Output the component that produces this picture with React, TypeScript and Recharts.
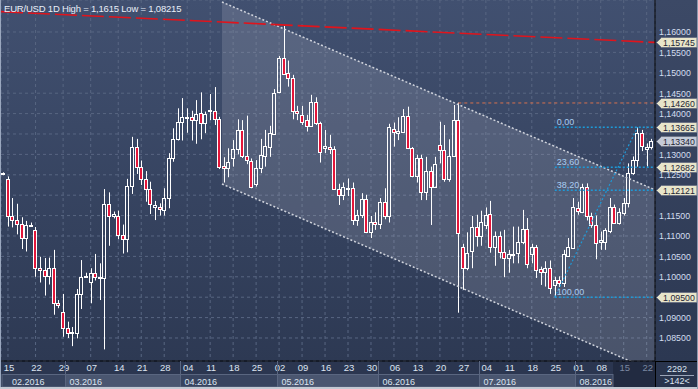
import React from 'react';
import {
  ComposedChart,
  Bar,
  Area,
  XAxis,
  YAxis,
  CartesianGrid,
  ReferenceLine,
  ReferenceDot,
} from 'recharts';

// EUR/USD daily candles, 14.02.2016 - 23.08.2016 (Sunday stubs until mid March)
const opens = [
  1.1252, 1.124, 1.115, 1.1139, 1.1129, 1.1095, 1.1125, 1.1115, 1.1021, 1.1016,
  1.1003, 1.1021, 1.0935, 1.0913, 1.0874, 1.0862, 1.0862, 1.0958, 1.1, 1.0987,
  1.1009, 1.1, 1.0998, 1.1179, 1.1148, 1.115, 1.1102, 1.1092, 1.1223, 1.1318,
  1.127, 1.1239, 1.1215, 1.1172, 1.1172, 1.1163, 1.1193, 1.1291, 1.1337, 1.1379,
  1.1391, 1.1391, 1.1384, 1.1401, 1.1378, 1.1406, 1.1407, 1.1387, 1.1272, 1.1266,
  1.1291, 1.1313, 1.136, 1.1296, 1.1285, 1.1228, 1.1266, 1.1296, 1.1319, 1.135,
  1.1454, 1.1536, 1.1499, 1.1487, 1.1407, 1.1397, 1.1384, 1.137, 1.1429, 1.1376,
  1.1316, 1.1319, 1.1313, 1.1215, 1.1201, 1.1216, 1.1217, 1.1139, 1.1152, 1.1191,
  1.1109, 1.1135, 1.1129, 1.1184, 1.1148, 1.1362, 1.1353, 1.1356, 1.1394, 1.1315,
  1.1247, 1.1291, 1.1209, 1.1259, 1.1221, 1.1323, 1.1311, 1.1239, 1.1296, 1.1384,
  1.1073, 1.1021, 1.1062, 1.1123, 1.1101, 1.1127, 1.1154, 1.1073, 1.1099, 1.106,
  1.1045, 1.1053, 1.1058, 1.1086, 1.1116, 1.1055, 1.1073, 1.1019, 1.1011, 1.1021,
  1.0979, 1.0992, 1.0984, 1.1052, 1.107, 1.1168, 1.116, 1.1221, 1.1148, 1.1127,
  1.1086, 1.1086, 1.1113, 1.1172, 1.1133, 1.1156, 1.118, 1.1254, 1.1286, 1.1352,
  1.1313, 1.1317,
];
const highs = [
  1.1256, 1.1246, 1.1193, 1.1179, 1.1146, 1.1137, 1.1133, 1.1122, 1.1049, 1.1046,
  1.1047, 1.1066, 1.0943, 1.0958, 1.089, 1.0877, 1.097, 1.1041, 1.101, 1.1021,
  1.1056, 1.1033, 1.1215, 1.1207, 1.116, 1.1162, 1.1128, 1.124, 1.1343, 1.1338,
  1.1285, 1.1259, 1.1233, 1.1186, 1.118, 1.1217, 1.1303, 1.1364, 1.1413, 1.1438,
  1.1413, 1.1407, 1.1433, 1.1452, 1.1405, 1.1448, 1.1465, 1.1392, 1.1293, 1.1315,
  1.1335, 1.1386, 1.1384, 1.1395, 1.129, 1.1286, 1.1338, 1.136, 1.137, 1.146,
  1.1541, 1.1615, 1.153, 1.1495, 1.1419, 1.1419, 1.1397, 1.1446, 1.144, 1.138,
  1.136, 1.1348, 1.132, 1.1228, 1.1231, 1.1241, 1.1231, 1.1164, 1.1205, 1.1201,
  1.1149, 1.1158, 1.1193, 1.1217, 1.1375, 1.1378, 1.1391, 1.1411, 1.1417, 1.1318,
  1.1299, 1.1299, 1.1294, 1.127, 1.1294, 1.138, 1.1372, 1.1337, 1.1421, 1.1427,
  1.1081, 1.1109, 1.1149, 1.1152, 1.1162, 1.117, 1.1186, 1.1111, 1.1111, 1.1115,
  1.1066, 1.1123, 1.1123, 1.1164, 1.1144, 1.1081, 1.1078, 1.1025, 1.1038, 1.104,
  1.1, 1.1001, 1.1066, 1.1095, 1.1193, 1.1184, 1.1228, 1.1229, 1.1157, 1.115,
  1.1111, 1.1119, 1.1193, 1.1177, 1.1168, 1.1193, 1.1278, 1.1295, 1.13665, 1.136,
  1.1327, 1.1338,
];
const lows = [
  1.1249, 1.1123, 1.1121, 1.1104, 1.1068, 1.1062, 1.1122, 1.1, 1.0986, 1.0954,
  1.0981, 1.0907, 1.0923, 1.0853, 1.085, 1.083, 1.0849, 1.0921, 1.0997, 1.0935,
  1.0991, 1.0943, 1.0822, 1.1076, 1.1143, 1.1092, 1.1057, 1.106, 1.1203, 1.1252,
  1.1225, 1.1184, 1.1154, 1.1139, 1.115, 1.115, 1.1168, 1.1282, 1.1334, 1.1334,
  1.1353, 1.1334, 1.1326, 1.1337, 1.1352, 1.1384, 1.1372, 1.1264, 1.1231, 1.1244,
  1.127, 1.13, 1.1291, 1.1276, 1.1217, 1.1221, 1.1254, 1.127, 1.1294, 1.1348,
  1.145, 1.1495, 1.1466, 1.1386, 1.1384, 1.1372, 1.1356, 1.1368, 1.1372, 1.128,
  1.1303, 1.1301, 1.1213, 1.1176, 1.1188, 1.1198, 1.1127, 1.1125, 1.1144, 1.1107,
  1.1095, 1.1115, 1.1117, 1.1141, 1.1133, 1.1319, 1.1335, 1.1353, 1.1313, 1.1244,
  1.1231, 1.1188, 1.1188, 1.1127, 1.1221, 1.1278, 1.1233, 1.1233, 1.1294, 1.0912,
  1.0968, 1.1016, 1.1021, 1.1074, 1.1076, 1.1117, 1.1059, 1.1027, 1.1045, 1.0999,
  1.101, 1.1033, 1.1033, 1.108, 1.1021, 1.1033, 1.0997, 1.098, 1.0976, 1.0958,
  1.095, 1.0975, 1.0975, 1.1049, 1.1068, 1.1152, 1.1156, 1.1138, 1.112, 1.1043,
  1.1066, 1.1066, 1.1107, 1.113, 1.1128, 1.115, 1.117, 1.125, 1.127, 1.1308,
  1.127, 1.1312,
];
const closes = [
  1.1254, 1.115, 1.1139, 1.1129, 1.1095, 1.1126, 1.1127, 1.1021, 1.1016, 1.1003,
  1.1021, 1.0935, 1.093, 1.0874, 1.0863, 1.0865, 1.0958, 1.0999, 1.1003, 1.1009,
  1.1, 1.0998, 1.1179, 1.1148, 1.1154, 1.1102, 1.1092, 1.1223, 1.1318, 1.1269,
  1.1239, 1.1215, 1.1179, 1.1177, 1.1166, 1.1193, 1.1291, 1.1337, 1.1379, 1.1391,
  1.1392, 1.1384, 1.1399, 1.1376, 1.1399, 1.1408, 1.1386, 1.127, 1.1267, 1.1282,
  1.1313, 1.136, 1.1296, 1.1286, 1.1221, 1.1267, 1.1299, 1.1321, 1.1352, 1.1451,
  1.1536, 1.1497, 1.1487, 1.1407, 1.1401, 1.138, 1.137, 1.1429, 1.1376, 1.1305,
  1.1321, 1.1313, 1.1215, 1.1201, 1.122, 1.1218, 1.1139, 1.1152, 1.1191, 1.1111,
  1.1134, 1.113, 1.1184, 1.1148, 1.1366, 1.1356, 1.1358, 1.1394, 1.1315, 1.1247,
  1.1291, 1.1209, 1.1259, 1.1221, 1.1277, 1.1311, 1.1239, 1.1296, 1.1384, 1.1108,
  1.1021, 1.1059, 1.1123, 1.1101, 1.1134, 1.1152, 1.1073, 1.1099, 1.106, 1.1045,
  1.1056, 1.1057, 1.1086, 1.1116, 1.1032, 1.1073, 1.1017, 1.1011, 1.1021, 1.0972,
  1.0992, 1.0984, 1.1056, 1.1074, 1.117, 1.1161, 1.1221, 1.1148, 1.1128, 1.1084,
  1.109, 1.1115, 1.1172, 1.1133, 1.116, 1.118, 1.1254, 1.1286, 1.1352, 1.132,
  1.1318, 1.1334,
];

// drawings on the chart (index of candle, price)
const resistLine = [
  { x: -0.52, y: 1.16498 },
  { x: 141.81, y: 1.15745 },
];
const channelTop = [
  { x: 47.57, y: 1.16735 },
  { x: 141.81, y: 1.1213 },
];
const channelBottom = [
  { x: 47.57, y: 1.12275 },
  { x: 141.81, y: 1.07669 },
];
const brexitHigh = 1.1426;
const fibLevels = [1.13665, 1.12682, 1.12121, 1.095];
const fibNames = ['0,00', '23,60', '38,20', '100,00'];
const fibFrom = 120;
const fibTrend = [
  { x: 120, y: 1.095 },
  { x: 138, y: 1.13665 },
];
const priceTicks = [
  1.085, 1.09, 1.095, 1.1, 1.105, 1.11, 1.115, 1.12, 1.125, 1.13, 1.135, 1.14, 1.145,
  1.15, 1.155, 1.16,
];
const hiddenTicks = [1.095, 1.12, 1.135];
const tagValues = [1.15745, 1.1426, 1.13665, 1.1334, 1.12682, 1.12121, 1.095];
const lastPrice = 1.1334;

const W = 698;
const H = 389;
const PLOT_L = 1;
const PLOT_R = 655;
const PLOT_B = 361;
const DIM_X = 613;
const X_DOMAIN: [number, number] = [-0.52, 141.81];
const Y_DOMAIN: [number, number] = [1.07936, 1.16784];
const PPU = (PLOT_R - PLOT_L) / (X_DOMAIN[1] - X_DOMAIN[0]);
const FONT = '"Liberation Sans", Arial, sans-serif';

// trading calendar: Sunday stubs are present until 13.03.2016
const dates: Date[] = [];
for (let t = Date.UTC(2016, 1, 14); dates.length < opens.length; t += 86400000) {
  const d = new Date(t);
  const wd = d.getUTCDay();
  if (wd === 6) continue;
  if (wd === 0 && t > Date.UTC(2016, 2, 13)) continue;
  dates.push(d);
}
const pad = (n: number) => (n < 10 ? '0' + n : String(n));
const mondays = dates.map((d, i) => (d.getUTCDay() === 1 ? i : -1)).filter((i) => i >= 0);
const monthStarts = dates
  .map((d, i) => (i === 0 || d.getUTCMonth() !== dates[i - 1].getUTCMonth() ? i : -1))
  .filter((i) => i >= 0);

const rows: any[] = opens.map((o, i) => ({
  i,
  o,
  h: highs[i],
  l: lows[i],
  c: closes[i],
  range: [lows[i], highs[i]],
}));
rows.push({ i: channelTop[0].x, band: [channelBottom[0].y, channelTop[0].y] });
rows.push({ i: channelTop[1].x, band: [channelBottom[1].y, channelTop[1].y] });

const fmt = (v: number) => v.toFixed(5).replace('.', ',');

const Candle = (props: any) => {
  const { x, y, width, height, payload } = props;
  if (!payload || payload.o === undefined) return null;
  const { o, h, l, c } = payload;
  const top = Math.min(y, y + height);
  const bottom = Math.max(y, y + height);
  const k = h - l > 0 ? (bottom - top) / (h - l) : 0;
  const py = (p: number) => top + (h - p) * k;
  const cx = Math.round(x + width / 2) + 0.5;
  const bTop = Math.round(py(Math.max(o, c))) + 0.5;
  const bBot = Math.max(Math.round(py(Math.min(o, c))) + 0.5, bTop + 1);
  const up = c >= o;
  return (
    <g>
      <line x1={cx} x2={cx} y1={top} y2={bTop} stroke="#fff" />
      <line x1={cx} x2={cx} y1={bBot} y2={bottom} stroke="#fff" />
      <rect
        x={cx - 2}
        y={bTop}
        width={3}
        height={bBot - bTop}
        fill={up ? 'none' : '#e3163a'}
        stroke="#fff"
        strokeWidth={1}
      />
    </g>
  );
};

const PriceTick = ({ payload }: any) => {
  const v = payload.value;
  if (hiddenTicks.some((h) => Math.abs(h - v) < 1e-6)) return null;
  return (
    <text x={PLOT_R + 4} y={payload.coordinate + 3.5} fontSize={8.8} fill="#d3def0" fontFamily={FONT}>
      {fmt(v)}
    </text>
  );
};

const DayTick = ({ x, payload }: any) => {
  const d = dates[payload.value];
  if (!d) return null;
  return (
    <text
      x={x + 1}
      y={PLOT_B + 10}
      textAnchor="middle"
      fontSize={9.5}
      fontFamily={FONT}
      fill={x > DIM_X ? '#7a87a0' : '#dde4f0'}
    >
      {pad(d.getUTCDate())}
    </text>
  );
};

const MonthTick = ({ x, payload }: any) => {
  const i = payload.value;
  const k = monthStarts.indexOf(i);
  const d = dates[i];
  if (k < 0 || !d) return null;
  const next = monthStarts[k + 1];
  const x0 = k === 0 ? PLOT_L + 1 : Math.round(x - PPU / 2) + 0.5;
  const x1 = next !== undefined ? Math.round(x - PPU / 2 + (next - i) * PPU) + 0.5 : DIM_X;
  return (
    <g>
      <rect
        x={x0}
        y={PLOT_B + 13.5}
        width={x1 - x0}
        height={12.5}
        fill={k % 2 ? '#4a5670' : '#38445f'}
        stroke="#5a6680"
      />
      {k > 0 && <line x1={x0} x2={x0} y1={PLOT_B} y2={PLOT_B + 26} stroke="#5a6680" />}
      <text x={k === 0 ? 12 : x0 + 4} y={PLOT_B + 23.5} fontSize={9} fontFamily={FONT} fill="#dde4f0">
        {pad(d.getUTCMonth() + 1) + '.' + d.getUTCFullYear()}
      </text>
    </g>
  );
};

const Tag = ({ viewBox, v }: any) => {
  if (!viewBox) return null;
  const x = PLOT_R;
  const y = Math.round(viewBox.y) + 0.5;
  const current = v === lastPrice;
  return (
    <g>
      <path
        d={`M${x + 1.5},${y} L${x + 6.5},${y - 5} H${x + 42} V${y + 5} H${x + 6.5} Z`}
        fill={current ? '#c5cbd8' : '#e8e5ca'}
        stroke="#6c7385"
      />
      <text x={x + 24} y={y + 3.3} textAnchor="middle" fontSize={8.8} fontFamily={FONT} fill="#1f2535">
        {fmt(v)}
      </text>
    </g>
  );
};

const FibLabel = ({ viewBox, text }: any) => {
  if (!viewBox) return null;
  return (
    <text x={viewBox.x + 2} y={viewBox.y - 2.5} fontSize={9} fontFamily={FONT} fill="#a9cdf2">
      {text}
    </text>
  );
};

export default function App() {
  return (
    <div
      style={{
        position: 'absolute',
        left: 0,
        top: 0,
        width: W,
        height: H,
        overflow: 'hidden',
        fontFamily: FONT,
        background: '#2b3650',
      }}
    >
      <div
        style={{
          position: 'absolute',
          left: 0,
          top: 0,
          width: PLOT_R,
          height: PLOT_B,
          background: 'linear-gradient(180deg, #415070 0%, #2d3953 100%)',
        }}
      />
      <div
        style={{
          position: 'absolute',
          left: PLOT_R,
          top: 0,
          width: W - PLOT_R,
          height: PLOT_B,
          background: 'linear-gradient(180deg, #3c4966 0%, #2c3852 100%)',
        }}
      />
      <div
        style={{
          position: 'absolute',
          left: DIM_X,
          top: PLOT_B,
          width: PLOT_R - DIM_X,
          height: 26,
          background: '#222b41',
        }}
      />
      <div style={{ position: 'absolute', left: 0, top: 0 }}>
        <ComposedChart
          width={W}
          height={H}
          data={rows}
          margin={{ top: 0, right: 0, bottom: 2, left: PLOT_L }}
        >
          <CartesianGrid stroke="#586682" strokeDasharray="3 3" />
          <XAxis
            dataKey="i"
            type="number"
            domain={X_DOMAIN}
            allowDataOverflow
            ticks={mondays}
            interval={0}
            height={13}
            tickLine={false}
            axisLine={{ stroke: '#000' }}
            tick={<DayTick />}
          />
          <XAxis
            xAxisId="m"
            dataKey="i"
            type="number"
            domain={X_DOMAIN}
            allowDataOverflow
            ticks={monthStarts}
            interval={0}
            height={13}
            tickLine={false}
            axisLine={false}
            tick={<MonthTick />}
          />
          <YAxis
            type="number"
            orientation="right"
            domain={Y_DOMAIN}
            allowDataOverflow
            ticks={priceTicks}
            interval={0}
            width={W - PLOT_R}
            tickLine={false}
            axisLine={{ stroke: '#000' }}
            tick={<PriceTick />}
          />
          <Area
            dataKey="band"
            type="linear"
            connectNulls
            stroke="none"
            fill="#d4d8e0"
            fillOpacity={0.17}
            isAnimationActive={false}
          />
          <ReferenceLine segment={channelTop} stroke="#cfd3dc" strokeWidth={1.5} strokeDasharray="2 2" ifOverflow="hidden" />
          <ReferenceLine segment={channelBottom} stroke="#cfd3dc" strokeWidth={1.5} strokeDasharray="2 2" ifOverflow="hidden" />
          <ReferenceLine segment={resistLine} stroke="#e0141c" strokeWidth={1.6} strokeDasharray="22 5" ifOverflow="hidden" />
          <ReferenceLine
            segment={[
              { x: 99, y: brexitHigh },
              { x: X_DOMAIN[1], y: brexitHigh },
            ]}
            stroke="#d8714e"
            strokeDasharray="3 3"
            ifOverflow="hidden"
          />
          {fibLevels.map((v) => (
            <ReferenceLine
              key={'f' + v}
              segment={[
                { x: fibFrom, y: v },
                { x: X_DOMAIN[1], y: v },
              ]}
              stroke="#1d9ad8"
              strokeWidth={1.5}
              strokeDasharray="2 2"
              ifOverflow="hidden"
            />
          ))}
          <ReferenceLine segment={fibTrend} stroke="#1d9ad8" strokeWidth={1.2} strokeDasharray="2 2" ifOverflow="hidden" />
          <Bar dataKey="range" barSize={4} isAnimationActive={false} shape={(p: any) => <Candle {...p} />} />
          {fibLevels.map((v, k) => (
            <ReferenceDot
              key={'fl' + v}
              x={fibFrom}
              y={v}
              r={0}
              fill="none"
              stroke="none"
              ifOverflow="visible"
              label={(p: any) => <FibLabel {...p} text={fibNames[k]} />}
            />
          ))}
          {tagValues.map((v) => (
            <ReferenceDot
              key={'t' + v}
              x={X_DOMAIN[1]}
              y={v}
              r={0}
              fill="none"
              stroke="none"
              ifOverflow="visible"
              label={(p: any) => <Tag {...p} v={v} />}
            />
          ))}
        </ComposedChart>
      </div>
      <div
        style={{
          position: 'absolute',
          left: 4,
          top: 3,
          fontSize: 9.5,
          lineHeight: '11px',
          letterSpacing: -0.2,
          color: '#e8eef8',
          whiteSpace: 'nowrap',
        }}
      >
        EUR/USD 1D High = 1,1615 Low = 1,08215
      </div>
      <div
        style={{
          position: 'absolute',
          left: PLOT_R,
          top: PLOT_B,
          width: W - PLOT_R,
          height: 26,
          background: '#29344d',
          borderLeft: '1px solid #000',
          borderTop: '1px solid #000',
          boxSizing: 'border-box',
          color: '#dde4f0',
          fontSize: 9,
          textAlign: 'center',
        }}
      >
        <div style={{ lineHeight: '12px', paddingTop: 1 }}>2292</div>
        <div style={{ margin: '0 4px', borderTop: '1px solid #9aa4b8' }} />
        <div style={{ lineHeight: '11px' }}>&gt;142&lt;</div>
      </div>
      <div style={{ position: 'absolute', left: 0, top: 0, width: 1, height: H, background: '#9aa7be' }} />
      <div style={{ position: 'absolute', left: 0, top: H - 2, width: W, height: 2, background: '#c3c9d3' }} />
      <div style={{ position: 'absolute', left: W - 1, top: 0, width: 1, height: H, background: '#8d99ae' }} />
    </div>
  );
}
